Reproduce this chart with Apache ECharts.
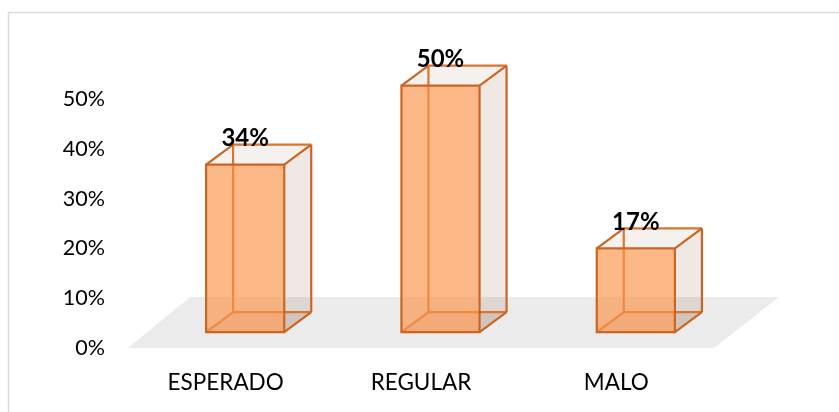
<!DOCTYPE html>
<html><head><meta charset="utf-8">
<style>html,body{margin:0;padding:0;background:#fff}#c{width:839px;height:412px}</style>
<script src="https://cdn.jsdelivr.net/npm/echarts@6/dist/echarts.min.js"></script>
</head><body><div id="c"></div>
<script>
var categories = ['ESPERADO', 'REGULAR', 'MALO'];
var values = [34, 50, 17];
var labels = ['34%', '50%', '17%'];
var DX = 27, DY = -20, SHIFT = 19.5;
var chart = echarts.init(document.getElementById('c'));
function poly(pts, fill, stroke, w) {
  return {type:'polygon', shape:{points:pts}, style:{fill:fill, stroke:stroke||null, lineWidth:w||0}, silent:true};
}
function line(a, b, c, w) {
  return {type:'line', shape:{x1:a[0],y1:a[1],x2:b[0],y2:b[1]}, style:{stroke:c, lineWidth:w, fill:null}, silent:true};
}
function renderBar(params, api) {
  var top = api.coord([api.value(0), api.value(1)]);
  var base = api.coord([api.value(0), 0]);
  var w = api.size([1, 0])[0] * 0.4;
  var xl = top[0] + SHIFT - w / 2, xr = xl + w, yt = top[1], yb = base[1];
  var A=[xl,yt], B=[xr,yt], C=[xr,yb], D=[xl,yb];
  function back(p){return [p[0]+DX,p[1]+DY];}
  var A2=back(A), B2=back(B), C2=back(C), D2=back(D);
  var edge='#CB6622', inner='#D9752F', side='rgba(130,75,45,0.13)', bottom='rgba(130,75,45,0.13)', topc='rgba(130,75,45,0.08)';
  return {type:'group', children:[
    poly([D,C,C2,D2], bottom),
    poly([B,B2,C2,C], side),
    poly([A,B,B2,A2], topc),
    line(A2,D2,inner,2.2), line(D2,C2,inner,2.2), line(A2,B2,inner,2.2), line(B2,C2,edge,2.2),
    line(D,D2,inner,2.2), line(A,A2,edge,2.2), line(B,B2,edge,2.2), line(C,C2,edge,2.2),
    poly([A,B,C,D], 'rgba(252,146,72,0.65)'),
    poly([A,B,C,D], 'transparent', edge, 2.2),
    {type:'text', silent:true, style:{text:labels[params.dataIndex], x:top[0]+SHIFT, y:yt-26,
      align:'center', verticalAlign:'middle', font:'bold 24px Lato', fill:'#000'}}
  ]};
}
function renderFloor(params, api) {
  var a = api.coord([0, 0]);
  var band = api.size([1, 0])[0];
  var x0 = a[0] - band / 2, x1 = x0 + band * categories.length, y0 = a[1];
  return {type:'polygon', silent:true, shape:{points:[[x0,y0],[x1,y0],[x1+65,y0-51],[x0+62,y0-51]]}, style:{fill:'#EBEBEB'}};
}
chart.setOption({
  animation:false,
  backgroundColor:'#fff',
  graphic:[
    {type:'line', shape:{x1:8,y1:12.5,x2:839,y2:12.5}, style:{stroke:'#D9D9D9',lineWidth:1.5}},
    {type:'line', shape:{x1:8.5,y1:12,x2:8.5,y2:412}, style:{stroke:'#D9D9D9',lineWidth:1.5}}
  ],
  grid:{left:128, width:586, top:99, height:249},
  xAxis:{type:'category', data:categories, axisLine:{show:false}, axisTick:{show:false},
    axisLabel:{color:'#000', fontFamily:'Lato', fontSize:22.5, margin:23}},
  yAxis:[
    {type:'value', min:0, max:50, interval:10, splitLine:{show:false}, axisLine:{show:false}, axisTick:{show:false},
     axisLabel:{color:'#000', fontFamily:'Lato', fontSize:21.5, margin:23, formatter:'{value}%', padding:[5,0,0,0]}},
    {type:'value', min:-3.2, max:47.3, show:false, splitLine:{show:false}}
  ],
  series:[
    {type:'custom', z:1, yAxisIndex:0, clip:false, renderItem:renderFloor, data:[[0,0]], encode:{x:0,y:1}, silent:true},
    {type:'custom', z:2, yAxisIndex:1, clip:false, renderItem:renderBar, encode:{x:0,y:1},
     data:values.map(function(v,i){return [i,v];})}
  ]
});
</script></body></html>
